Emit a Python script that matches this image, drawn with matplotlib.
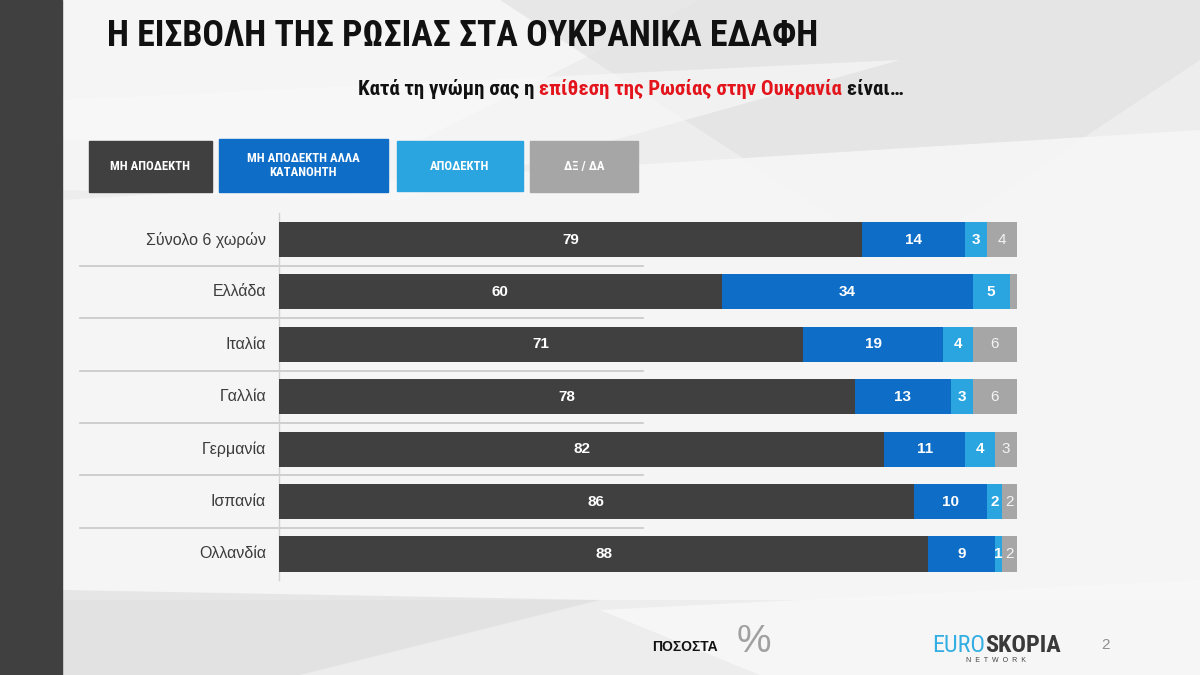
import matplotlib
matplotlib.use("Agg")
import matplotlib.pyplot as plt
import numpy as np
from matplotlib.patches import Rectangle, Polygon

# data
countries = ['Σύνολο 6 χωρών', 'Ελλάδα', 'Ιταλία', 'Γαλλία', 'Γερμανία', 'Ισπανία', 'Ολλανδία']
not_accept = [79, 60, 71, 78, 82, 86, 88]
not_accept_underst = [14, 34, 19, 13, 11, 10, 9]
accept = [3, 5, 4, 3, 4, 2, 1]
dkna = [4, 1, 6, 6, 3, 2, 2]
dkna_shown = [True, False, True, True, True, True, True]
series_names = ['ΜΗ ΑΠΟΔΕΚΤΗ', 'ΜΗ ΑΠΟΔΕΚΤΗ ΑΛΛΑ\nΚΑΤΑΝΟΗΤΗ', 'ΑΠΟΔΕΚΤΗ', 'ΔΞ / ΔΑ']
colors = ['#404040', '#0e6dc6', '#2aa5df', '#a6a6a6']

NARROW = ['Roboto Condensed', 'Liberation Sans', 'DejaVu Sans']
SANS = ['Liberation Sans', 'DejaVu Sans']

fig = plt.figure(figsize=(12, 6.75), dpi=100)

# background in pixel coords
bg = fig.add_axes([0, 0, 1, 1])
bg.set_xlim(0, 1200)
bg.set_ylim(675, 0)
bg.axis('off')
bg.add_patch(Rectangle((0, 0), 1200, 675, color='#ededed', zorder=0))
shapes = [
    ([(62, 0), (700, 0), (420, 140), (62, 140)], '#f7f7f7', 0.9),
    ([(500, 0), (1200, 0), (1200, 60), (900, 260)], '#e2e2e2', 0.7),
    ([(62, 200), (1200, 130), (1200, 600), (62, 600)], '#f6f6f6', 0.9),
    ([(62, 590), (600, 600), (300, 675), (62, 675)], '#dcdcdc', 0.6),
    ([(600, 610), (1200, 580), (1200, 675), (760, 675)], '#f8f8f8', 0.9),
    ([(62, 100), (900, 60), (400, 200), (62, 190)], '#fafafa', 0.6),
]
for pts, c, a in shapes:
    bg.add_patch(Polygon(pts, closed=True, color=c, alpha=a, lw=0, zorder=1))
bg.add_patch(Rectangle((0, 0), 62, 675, color='#404040', zorder=2))

# title and subtitle
bg.text(107, 36, 'Η ΕΙΣΒΟΛΗ ΤΗΣ ΡΩΣΙΑΣ ΣΤΑ ΟΥΚΡΑΝΙΚΑ ΕΔΑΦΗ', fontsize=25.8,
        fontweight='bold', family=NARROW, color='#111111', va='center', ha='left', zorder=5)
t1 = bg.text(358, 95, 'Κατά τη γνώμη σας η', fontsize=15, fontweight='bold',
             family=NARROW, color='#111111', va='baseline', ha='left', zorder=5)
t2 = bg.annotate(' επίθεση της Ρωσίας στην Ουκρανία', xy=(1, 0), xycoords=t1,
                 fontsize=15, fontweight='bold', family=NARROW, color='#e3141b',
                 va='bottom', ha='left', zorder=5)
bg.annotate(' είναι…', xy=(1, 0), xycoords=t2, fontsize=15, fontweight='bold',
            family=NARROW, color='#111111', va='bottom', ha='left', zorder=5)

# legend boxes
boxes = [(89, 141, 123, 51), (219, 139, 169, 53), (397, 141, 126, 50), (530, 141, 108, 51)]
for (x, y, w, h), c, name in zip(boxes, colors, series_names):
    bg.add_patch(Rectangle((x, y), w, h, color=c, zorder=4))
    bg.text(x + w / 2, y + h / 2, name, color='white', fontsize=9.2, fontweight='bold',
            family=NARROW, ha='center', va='center', zorder=5, linespacing=1.05)

# footer
bg.text(685, 647, 'ΠΟΣΟΣΤΑ', fontsize=10, fontweight='bold', family=SANS,
        color='#111111', ha='center', va='center', zorder=5)
bg.text(754, 642, '%', fontsize=28, family=SANS, color='#a0a0a0',
        ha='center', va='center', zorder=5)
e1 = bg.text(932, 652, 'EURO', fontsize=17.5, family=NARROW, color='#33aee3',
             ha='left', va='baseline', zorder=5)
bg.annotate('SKOPIA', xy=(1, 0), xycoords=e1, fontsize=17.5, fontweight='bold',
            family=NARROW, color='#3a3a3a', ha='left', va='bottom', zorder=5)
bg.text(996, 660, 'N  E  T  W  O  R  K', fontsize=5, family=SANS, color='#444444',
        ha='center', va='center', zorder=5)
bg.text(1105, 645, '2', fontsize=11, family=SANS, color='#909090',
        ha='center', va='center', zorder=5)

# main bars
ax = fig.add_axes([279 / 1200, 1 - 580.2 / 675, 738 / 1200, 366.9 / 675])
ax.patch.set_alpha(0)
ax.set_xlim(0, 100)
ax.set_ylim(6.5, -0.5)
ax.axis('off')

y = np.arange(len(countries))
series = [not_accept, not_accept_underst, accept, dkna]
left = np.zeros(len(countries))
for k, (vals, c) in enumerate(zip(series, colors)):
    vals = np.array(vals, dtype=float)
    ax.barh(y, vals, left=left, height=0.67, color=c, zorder=3)
    for i, v in enumerate(vals):
        if k == 3:
            if dkna_shown[i]:
                ax.text(left[i] + v / 2, i, str(int(v)), color='#f4f4f4', fontsize=11,
                        family=SANS, ha='center', va='center', zorder=4)
        else:
            ax.text(left[i] + v / 2, i, str(int(v)), color='white', fontsize=11,
                    fontweight='bold', family=SANS, ha='center', va='center', zorder=4)
    left += vals

# separators and axis line
xl = (80 - 279) / 738 * 100
xr = (643 - 279) / 738 * 100
for i in range(len(countries) - 1):
    ax.plot([xl, xr], [i + 0.5, i + 0.5], color='#c8c8c8', lw=1.2, clip_on=False, zorder=1)
ax.plot([0, 0], [-0.5, 6.5], color='#d0d0d0', lw=1, clip_on=False, zorder=1)

for i, name in enumerate(countries):
    ax.text(xl + (266 - 80) / 738 * 100, i, name, fontsize=11.5, family=SANS,
            color='#3c3c3c', ha='right', va='center', clip_on=False)

fig.savefig('out.png', dpi=100)
